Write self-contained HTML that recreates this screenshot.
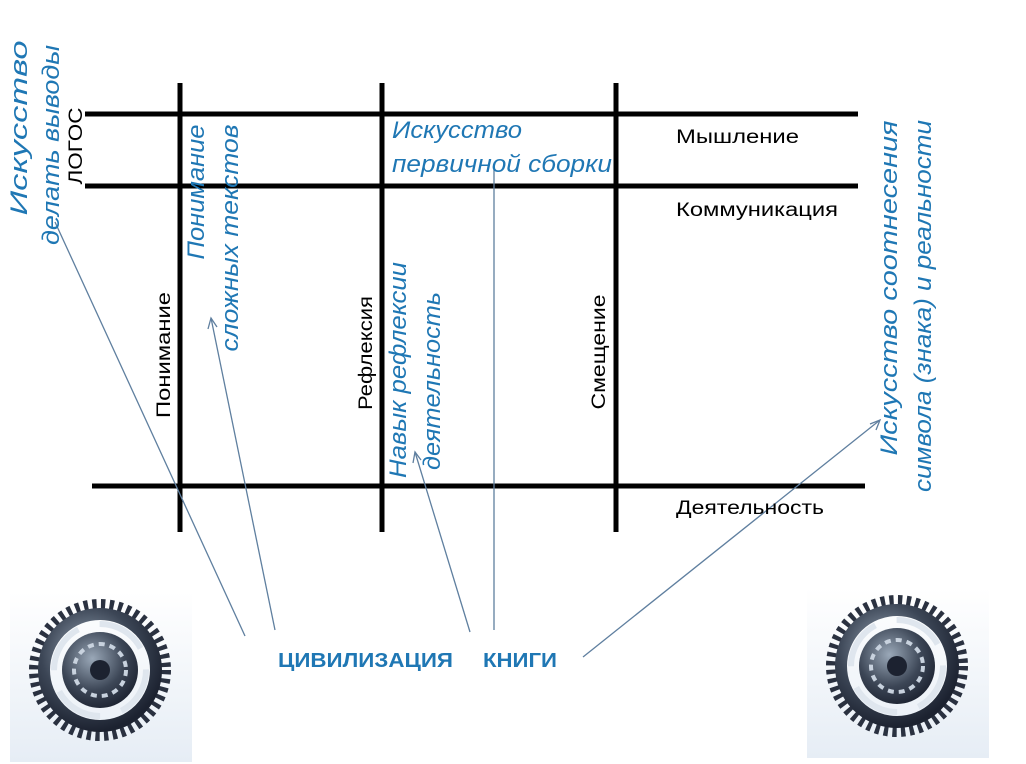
<!DOCTYPE html>
<html><head><meta charset="utf-8"><style>
html,body{margin:0;padding:0;background:#fff;}
svg{display:block;}
text{font-family:"Liberation Sans",sans-serif;}
.b{fill:#1f77b4;font-style:italic;font-size:24px;}
.k{fill:#000;font-size:19px;}
</style></head><body>
<svg width="1026" height="764" viewBox="0 0 1026 764" xmlns="http://www.w3.org/2000/svg">
<defs>
<linearGradient id="bg" x1="0" y1="0" x2="0" y2="1"><stop offset="0" stop-color="#fff"/><stop offset="1" stop-color="#e6edf5"/></linearGradient>
<radialGradient id="gr" cx="0.4" cy="0.35" r="0.7"><stop offset="0" stop-color="#9aa8b8"/><stop offset="0.6" stop-color="#3c4656"/><stop offset="1" stop-color="#1c2230"/></radialGradient>
<g id="gear">
<rect x="-90" y="-78" width="182" height="170" fill="url(#bg)"/>
<circle r="64" fill="none" stroke="#2a3140" stroke-width="14" stroke-dasharray="4.2 4.2"/>
<circle r="56" fill="none" stroke="url(#gr)" stroke-width="12"/>
<circle r="46" fill="none" stroke="#dfe6ee" stroke-width="6" stroke-dasharray="50 22"/>
<circle r="38" fill="url(#gr)"/>
<circle r="26" fill="none" stroke="#c8d2de" stroke-width="4" stroke-dasharray="6 5"/>
<circle r="10" fill="#1c2230"/>
</g>
</defs>
<use href="#gear" x="100" y="670"/>
<use href="#gear" x="897" y="666"/>
<g stroke="#000" stroke-width="5">
<line x1="85" y1="114" x2="858" y2="114"/>
<line x1="85" y1="186" x2="858" y2="186"/>
<line x1="92" y1="486" x2="865" y2="486"/>
<line x1="180" y1="83" x2="180" y2="532"/>
<line x1="382" y1="83" x2="382" y2="532"/>
<line x1="616" y1="83" x2="616" y2="532"/>
</g>
<g stroke="#5f7f9f" stroke-width="1.3" fill="none">
<line x1="245" y1="636" x2="55" y2="222"/>
<line x1="275" y1="630" x2="211" y2="318"/>
<polyline points="208,329 211,318 217,327"/>
<line x1="470" y1="632" x2="415" y2="452"/>
<polyline points="413,463 415,452 421,460"/>
<line x1="494" y1="630" x2="494" y2="165"/>
<line x1="583" y1="657" x2="880" y2="420"/>
<polyline points="870,424 880,420 876,430"/>
</g>
<g class="b">
<text transform="translate(27,128) rotate(-90)" text-anchor="middle" textLength="175" lengthAdjust="spacingAndGlyphs">Искусство</text>
<text transform="translate(59,145) rotate(-90)" text-anchor="middle" textLength="200" lengthAdjust="spacingAndGlyphs">делать выводы</text>
<text transform="translate(204,192) rotate(-90)" text-anchor="middle" textLength="135" lengthAdjust="spacingAndGlyphs">Понимание</text>
<text transform="translate(238,238) rotate(-90)" text-anchor="middle" textLength="227" lengthAdjust="spacingAndGlyphs">сложных текстов</text>
<text transform="translate(406,370) rotate(-90)" text-anchor="middle" textLength="216" lengthAdjust="spacingAndGlyphs">Навык рефлексии</text>
<text transform="translate(440,381) rotate(-90)" text-anchor="middle" textLength="178" lengthAdjust="spacingAndGlyphs">деятельность</text>
<text transform="translate(897,288) rotate(-90)" text-anchor="middle" textLength="335" lengthAdjust="spacingAndGlyphs">Искусство соотнесения</text>
<text transform="translate(931,306) rotate(-90)" text-anchor="middle" textLength="372" lengthAdjust="spacingAndGlyphs">символа (знака) и реальности</text>
<text x="392" y="138" textLength="130" lengthAdjust="spacingAndGlyphs">Искусство</text>
<text x="392" y="172" textLength="220" lengthAdjust="spacingAndGlyphs">первичной сборки</text>
</g>
<g class="k">
<text transform="translate(82,146) rotate(-90)" text-anchor="middle" textLength="77" lengthAdjust="spacingAndGlyphs">ЛОГОС</text>
<text transform="translate(170,355) rotate(-90)" text-anchor="middle" textLength="126" lengthAdjust="spacingAndGlyphs">Понимание</text>
<text transform="translate(372,353) rotate(-90)" text-anchor="middle" textLength="114" lengthAdjust="spacingAndGlyphs">Рефлексия</text>
<text transform="translate(605,352) rotate(-90)" text-anchor="middle" textLength="115" lengthAdjust="spacingAndGlyphs">Смещение</text>
<text x="676" y="143" textLength="123" lengthAdjust="spacingAndGlyphs">Мышление</text>
<text x="676" y="216" textLength="162" lengthAdjust="spacingAndGlyphs">Коммуникация</text>
<text x="676" y="514" textLength="148" lengthAdjust="spacingAndGlyphs">Деятельность</text>
</g>
<g fill="#1f77b4" font-weight="bold" font-size="20">
<text x="278" y="667" textLength="175" lengthAdjust="spacingAndGlyphs">ЦИВИЛИЗАЦИЯ</text>
<text x="483" y="667" textLength="74" lengthAdjust="spacingAndGlyphs">КНИГИ</text>
</g>
</svg>
</body></html>
